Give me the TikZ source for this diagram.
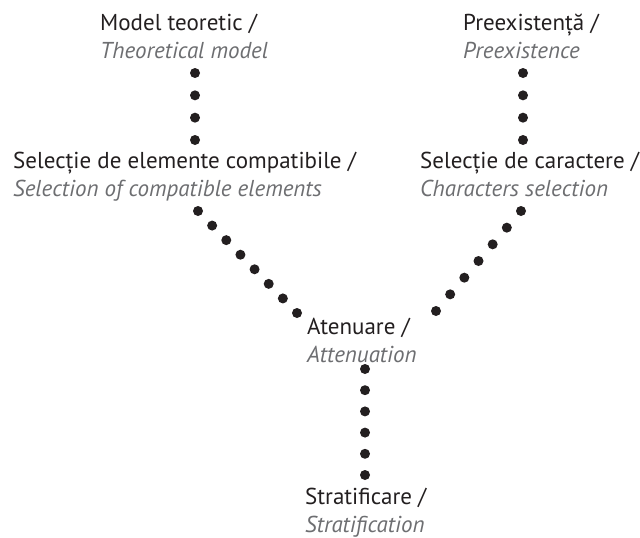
\documentclass[tikz,border=0pt]{standalone}
\usepackage{fontspec}
\setmainfont{PT Sans}
\usetikzlibrary{calc}
\definecolor{inkblack}{HTML}{231F20}
\definecolor{transgrey}{HTML}{6D6E71}
\tikzset{stage/.style={anchor=base west,inner sep=0pt,align=left,
    font=\fontsize{23}{27.5}\selectfont,text=inkblack},
  dot/.style={fill=inkblack}}
\newcommand{\twolang}[2]{#1\\{\color{transgrey}\itshape #2}}
\newcommand{\dotrow}[3]{\foreach \i in {0,...,#3}
    \fill[dot] ($(#1)!\i/#3!(#2)$) circle (5pt);}

\begin{document}
\begin{tikzpicture}[x=1pt,y=-1pt]
                   \useasboundingbox (0,0) rectangle (640,538);
                   % anchors sit on the baseline of the second line
                   \node[stage] (model) at (100,58) {\twolang{Model teoretic /}{Theoretical model}};
                   \node[stage] (preex) at (463,58) {\twolang{Preexistență /}{Preexistence}};
                   \node[stage] (selel) at (13,196) {\twolang{Selecție de elemente compatibile /}{Selection of compatible elements}};
                   \node[stage] (selcar) at (420,196) {\twolang{Selecție de caractere /}{Characters selection}};
                   \node[stage] (aten) at (307,362) {\twolang{Atenuare /}{Attenuation}};
                   \node[stage] (strat) at (305,532) {\twolang{Stratificare /}{Stratification}};
                   % ends of the dotted links
                   \coordinate (model-out) at (195,73);
                   \coordinate (selel-in) at (195,140);
                   \coordinate (preex-out) at (523,73);
                   \coordinate (selcar-in) at (523,140);
                   \coordinate (selel-out) at (198,211);
                   \coordinate (aten-inl) at (297,313);
                   \coordinate (selcar-out) at (521,211);
                   \coordinate (aten-inr) at (436,311);
                   \coordinate (aten-out) at (365,369);
                   \coordinate (strat-in) at (365,475);
                    \dotrow{model-out}{selel-in}{3}
                    \dotrow{preex-out}{selcar-in}{3}
                    \dotrow{selel-out}{aten-inl}{7}
                    \dotrow{selcar-out}{aten-inr}{6}
                    \dotrow{aten-out}{strat-in}{5}
                \end{tikzpicture}
\end{document}
